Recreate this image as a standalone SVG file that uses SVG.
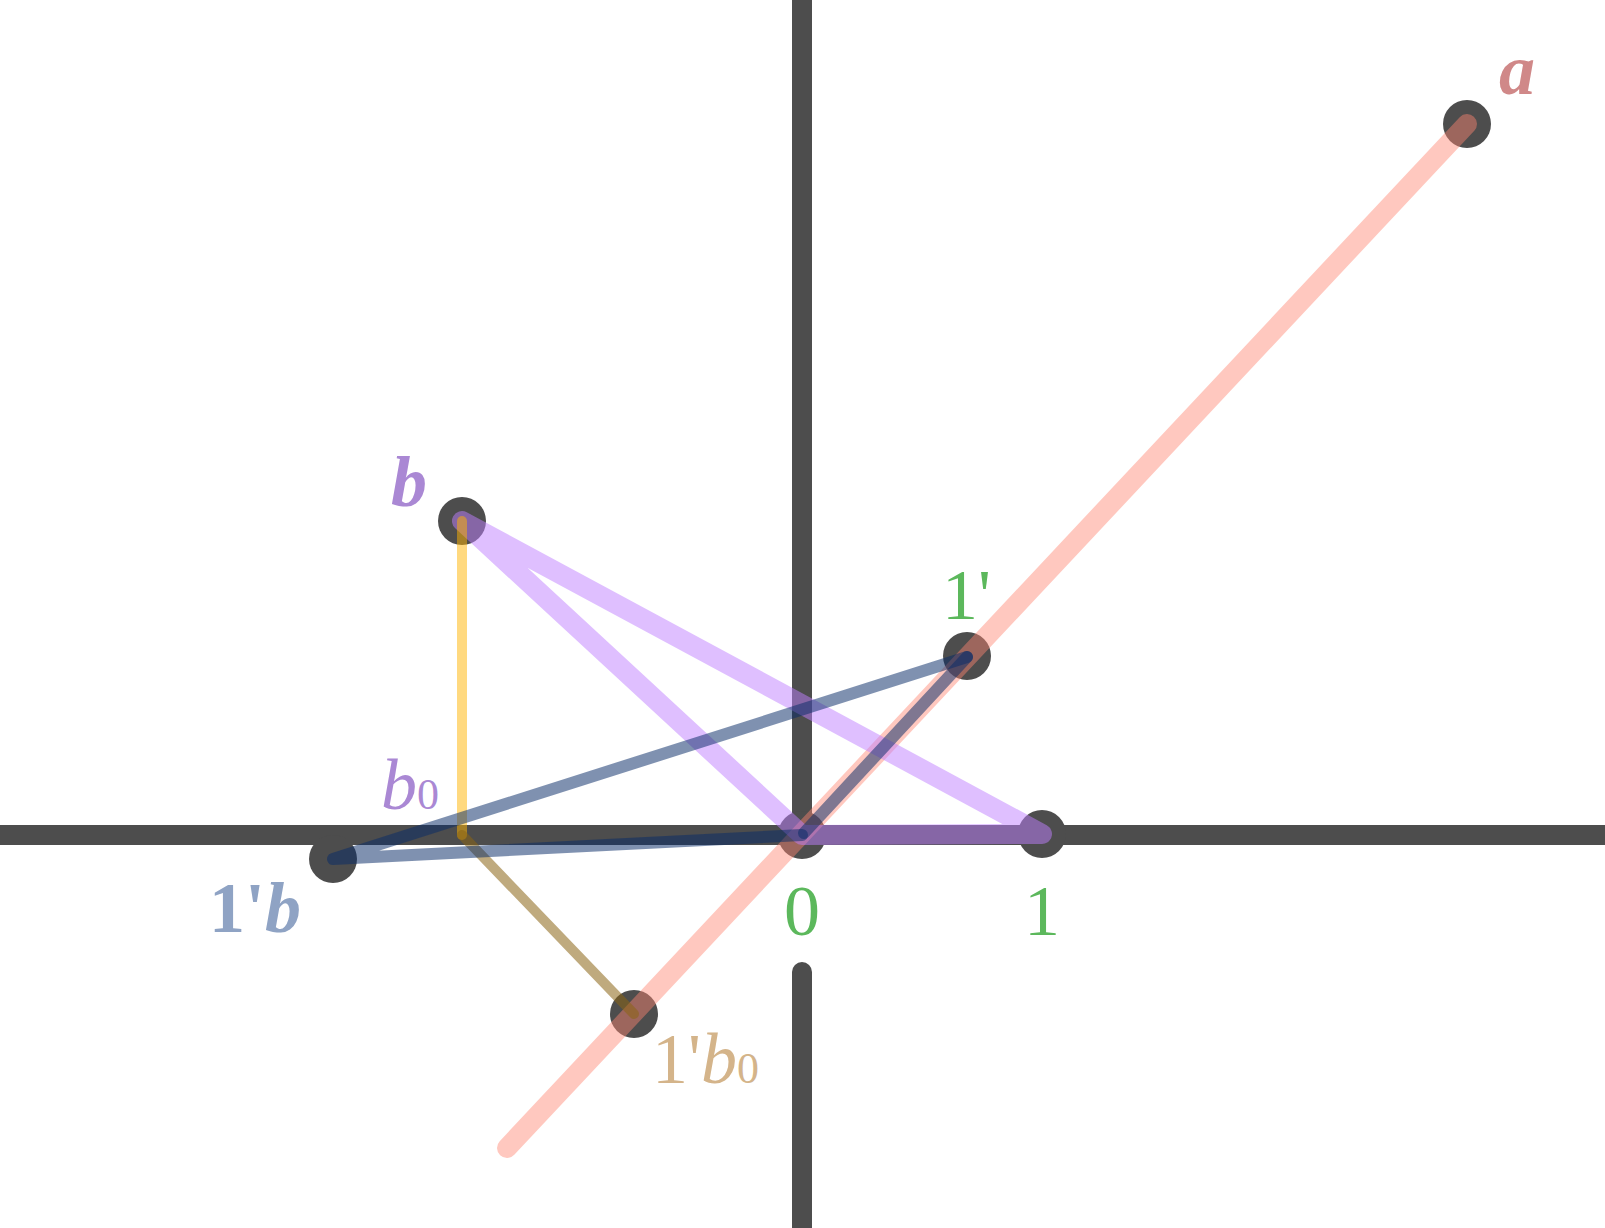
<svg xmlns="http://www.w3.org/2000/svg" width="1605" height="1228" viewBox="0 0 1605 1228">
<style>
.axis{stroke:#4d4d4d;stroke-width:20;fill:none}
.pt{fill:#4d4d4d}
.ln{fill:none;stroke-linecap:round;stroke-linejoin:round}
.red{stroke:#ff8470;stroke-opacity:0.45;stroke-width:20}
.pur{stroke:#c080ff;stroke-opacity:0.5;stroke-width:20}
.blu{stroke:#0a2c68;stroke-opacity:0.52;stroke-width:12}
.yel{stroke:#ffb400;stroke-opacity:0.5;stroke-width:10}
.brn{stroke:#8b6414;stroke-opacity:0.55;stroke-width:10}
text{font-family:"Liberation Serif","Times New Roman",serif;font-size:72px}
.g{fill:#5cb85c}
</style>
<rect width="1605" height="1228" fill="#ffffff"/>
<g id="axes">
<line class="axis" x1="0" y1="835" x2="1605" y2="835"/>
<line class="axis" x1="802" y1="-10" x2="802" y2="835"/>
<line class="axis" x1="802" y1="972" x2="802" y2="1240" stroke-linecap="round"/>
</g>
<g id="node-a"><circle class="pt" cx="1467" cy="124" r="24"/><text x="1499" y="94" font-weight="bold" font-style="italic" fill="#d08888">a</text></g>
<g id="node-b"><circle class="pt" cx="462" cy="521" r="24"/><text x="391" y="506" font-weight="bold" font-style="italic" fill="#aa88d4">b</text></g>
<g id="node-1p"><circle class="pt" cx="967" cy="656" r="24"/><text class="g" x="942" y="619">1'</text></g>
<g id="node-0"><circle class="pt" cx="802" cy="835" r="24"/><text class="g" x="802" y="935" text-anchor="middle">0</text></g>
<g id="node-1"><circle class="pt" cx="1042" cy="834" r="24"/><text class="g" x="1042" y="935" text-anchor="middle">1</text></g>
<g id="node-1pb"><circle class="pt" cx="333" cy="859" r="24"/><text x="209" y="932" font-weight="bold" fill="#8fa3c4">1'<tspan font-style="italic">b</tspan></text></g>
<g id="node-1pb0"><circle class="pt" cx="634" cy="1014" r="24"/><text x="652" y="1083" fill="#d4b48a">1'<tspan font-style="italic">b</tspan><tspan font-size="44">0</tspan></text></g>
<g id="node-b0"><text x="381" y="809" font-style="italic" fill="#aa88d4">b<tspan font-style="normal" font-size="44">0</tspan></text></g>
<g id="connectors">
<line class="ln red" x1="1467" y1="124" x2="507" y2="1148"/>
<polyline class="ln pur" points="1042,834 462,521 802,835 1042,834"/>
<line class="ln yel" x1="462" y1="521" x2="462" y2="835"/>
<line class="ln brn" x1="462" y1="835" x2="634" y2="1014"/>
<polyline class="ln blu" points="967,657 333,859 802,835"/>
<line class="ln blu" x1="804" y1="833" x2="967" y2="657" stroke-width="14" stroke-opacity="0.42"/>
</g>
</svg>
